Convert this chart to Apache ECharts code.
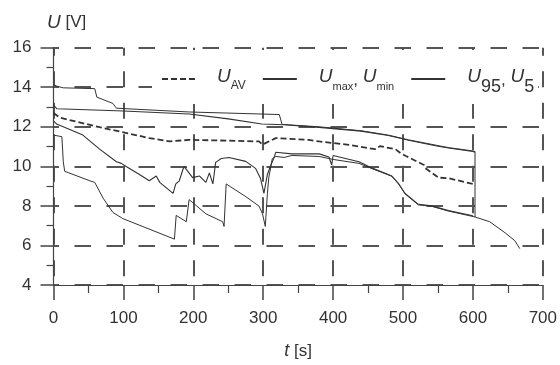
<!DOCTYPE html>
<html><head><meta charset="utf-8">
<script src="https://cdn.jsdelivr.net/npm/echarts@6/dist/echarts.min.js"></script>
<style>html,body{margin:0;padding:0;background:#fff}#c{width:560px;height:365px}</style>
</head><body><div id="c"></div>
<script>
// ---- data (t [s], U [V]) ----
const legendNames = ['U_AV', 'U_max, U_min', 'U_95, U_5'];
const uMax = [[0,14.14],[5,14.05],[14,13.97],[59,13.93],[62,13.5],[85,13.18],[90,12.94],[194,12.75],[323,12.62],[327,12.12],[380,12.0],[440,11.8],[479,11.58],[508,11.34],[550,11.05],[565,10.95],[600,10.78],[603,10.75],[603,7.44]];
const u95 = [[0,13.1],[5,12.91],[100,12.8],[194,12.65],[250,12.4],[298,12.14],[330,12.1],[380,11.97],[440,11.78],[479,11.56],[508,11.32],[550,11.02],[565,10.93],[600,10.75],[603,10.72]];
const uAv = [[0,12.7],[9,12.46],[40,12.2],[66,11.98],[100,11.72],[137,11.43],[166,11.26],[194,11.34],[250,11.3],[294,11.26],[299,11.1],[318,11.43],[365,11.34],[380,11.26],[420,11.1],[460,10.87],[467,11.02],[489,10.87],[498,10.63],[530,10.07],[532,9.91],[551,9.43],[565,9.4],[600,9.11]];
const u5 = [[0,12.3],[4.5,12.14],[42,11.58],[66,10.87],[90,10.23],[97,10.15],[104,9.99],[123,9.59],[137,9.27],[147,9.51],[152,9.19],[171,8.63],[175,9.11],[180,9.27],[185,9.83],[187,9.99],[190,9.85],[199,9.43],[209,9.51],[218,9.19],[223,9.67],[228,9.11],[232,10.2],[240,10.4],[251,10.45],[275,10.25],[289,9.9],[296,9.4],[299,8.95],[301,8.63],[306,9.59],[311,10.07],[315,10.39],[318,10.71],[341,10.63],[380,10.63],[394,10.47],[398,10.07],[400,10.55],[437,10.23],[456,9.91],[484,9.51],[494,9.11],[503,8.63],[522,8.08],[541,8.0],[565,7.76],[600,7.5]];
const uMin = [[0,11.58],[12,11.5],[14,10.23],[16,9.75],[52,9.27],[59,9.19],[71,8.39],[85,7.67],[99,7.36],[173,6.32],[175.5,7.52],[190,7.2],[192,7.15],[194,8.32],[218,7.6],[242,7.2],[244,6.96],[247,9.11],[275,8.47],[294,7.99],[299,7.6],[303,6.96],[306,8.63],[308,9.43],[313,10.39],[318,10.5],[330,10.45],[341,10.55],[380,10.5],[400,10.35],[437,10.15],[456,9.88],[484,9.5],[494,9.1],[503,8.6],[522,8.05],[541,7.98],[565,7.74],[603,7.44],[624,7.2],[646,6.64],[660,6.24],[667,5.84]];
const xMin = 0, xMax = 700, xStep = 100;
const yMin = 4, yMax = 16, yStep = 2;

const FONT = 'Liberation Sans, Arial, sans-serif';
const INK = '#333';
const GRID = '#555';
const legendRich = {
  'U_AV': '{u|U}{av|AV}',
  'U_max, U_min': '{u|U}{mm|max}{c|, }{u|U}{mm|min}',
  'U_95, U_5': '{u|U}{big|95}{c|, }{u|U}{big|5}'
};
const chart = echarts.init(document.getElementById('c'), null, {renderer: 'canvas'});
function line(name, data, w, dash) {
  return {
    type: 'line', name: name, data: data, symbol: 'none', animation: false,
    lineStyle: {color: INK, width: w, type: dash || 'solid'},
    itemStyle: {color: INK}, z: 3
  };
}
function tok(size, lh, padTop, italic) {
  return {fontSize: size, fontFamily: FONT, color: INK, lineHeight: lh, verticalAlign: 'top',
    padding: [padTop, 0, 0, 0], fontStyle: italic ? 'italic' : 'normal'};
}
chart.setOption({
  animation: false,
  backgroundColor: '#fff',
  grid: {left: 53.5, right: 15, top: 47.7, bottom: 66.7},
  graphic: [{
    type: 'text', left: 47, top: 13,
    style: {text: '{u|U} [V]', font: '17px ' + FONT, fill: INK,
      rich: {u: {fontStyle: 'italic', fontSize: 19, fontFamily: FONT, fill: INK}}}
  }],
  legend: {
    data: legendNames, left: 152, top: 50,
    padding: [16, 4, 8, 8], backgroundColor: '#fff', itemGap: 16,
    itemWidth: 34, itemHeight: 14, z: 10,
    itemStyle: {color: 'transparent', borderColor: 'transparent', borderWidth: 0, opacity: 0},
    formatter: n => legendRich[n],
    textStyle: {
      color: INK, fontSize: 17, fontFamily: FONT, padding: [0, 0, 0, 17],
      rich: {
        u: tok(19, 26, 1, true),
        c: tok(17, 17, 6, false),
        av: tok(12, 12, 13.5, false),
        mm: tok(11, 11, 15, false),
        big: tok(18, 18, 12, false)
      }
    }
  },
  xAxis: {
    type: 'value', min: xMin, max: xMax, interval: xStep,
    name: '{u|t} [s]', nameLocation: 'middle', nameGap: 57,
    nameTextStyle: {color: INK, fontSize: 17, fontFamily: FONT,
      rich: {u: {fontStyle: 'italic', fontSize: 18, fontFamily: FONT, color: INK}}},
    axisLine: {show: true, lineStyle: {color: '#444', width: 1.2}},
    axisTick: {show: true, length: 15, lineStyle: {color: '#444', width: 1.5}},
    minorTick: {show: true, splitNumber: 2, length: 8, lineStyle: {color: '#444', width: 1.2}},
    axisLabel: {color: INK, fontSize: 17, fontFamily: FONT, margin: 25},
    splitLine: {show: true, lineStyle: {color: GRID, width: 2, type: [16, 15.5], dashOffset: 8}}
  },
  yAxis: {
    type: 'value', min: yMin, max: yMax, interval: yStep,
    axisLine: {show: true, lineStyle: {color: '#444', width: 1.2}},
    axisTick: {show: true, length: 13, lineStyle: {color: '#444', width: 1.5}},
    minorTick: {show: true, splitNumber: 2, length: 7, lineStyle: {color: '#444', width: 1.2}},
    axisLabel: {color: INK, fontSize: 17, fontFamily: FONT, margin: 22},
    splitLine: {show: true, lineStyle: {color: GRID, width: 2, type: [16.5, 15.5], dashOffset: 11}}
  },
  series: [
    line('U_AV', uAv, 1.8, [6, 3]),
    line('U_max, U_min', uMax, 1),
    line('U_max, U_min', uMin, 1),
    line('U_95, U_5', u95, 1.1),
    line('U_95, U_5', u5, 1.1)
  ]
});
</script></body></html>
